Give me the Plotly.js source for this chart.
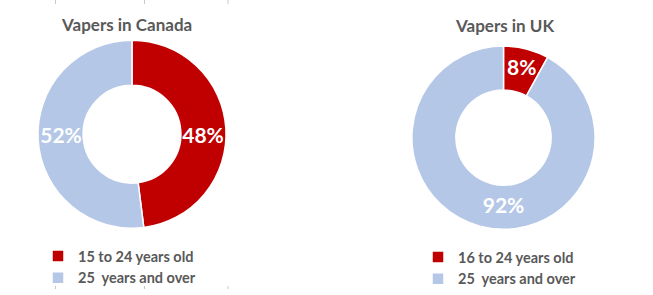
<!DOCTYPE html>
<html>
<head>
<meta charset="utf-8">
<script src="https://cdn.plot.ly/plotly-3.0.1.min.js"></script>
<style>
html,body{margin:0;padding:0;background:#fff;}
#chart{width:653px;height:295px;}
</style>
</head>
<body>
<div id="chart"></div>
<script>
// Data
const canadaLabels = ["15 to 24 years old", "25\u00A0 years and over"];
const canadaValues = [48, 52];
const ukLabels = ["16 to 24 years old", "25 \u00A0years and over"];
const ukValues = [8, 92];
const canadaTitle = "Vapers in Canada";
const ukTitle = "Vapers in UK";

const colors = ["#C00000", "#B4C7E7"];
const W = 653, H = 295;
const fontFam = "Lato, 'Open Sans', sans-serif";
const grey = "#595959";

const common = {
  type: "pie",
  hole: 0.52,
  sort: false,
  direction: "clockwise",
  rotation: 0,
  textinfo: "percent",
  texttemplate: "%{percent:.0%}",
  textposition: "inside",
  insidetextorientation: "horizontal",
  insidetextfont: {family: fontFam, size: 21, color: "#ffffff", weight: "bold"},
  marker: {colors: colors, line: {color: "#ffffff", width: 1.5}},
  hoverinfo: "none"
};

const traces = [
  Object.assign({}, common, {
    labels: canadaLabels, values: canadaValues,
    domain: {x: [36/W, 228/W], y: [1 - 233/H, 1 - 41/H]},
    legend: "legend"
  }),
  Object.assign({}, common, {
    labels: ukLabels, values: ukValues,
    domain: {x: [410/W, 597/W], y: [1 - 234/H, 1 - 47/H]},
    legend: "legend2"
  })
];

const legendCommon = {
  orientation: "v",
  xanchor: "left", yanchor: "top",
  font: {family: fontFam, size: 14.5, color: grey, weight: "bold"},
  bgcolor: "rgba(0,0,0,0)",
  itemclick: false, itemdoubleclick: false,
  tracegroupgap: 0
};

const tickShapes = [];
[55.5, 144.5, 228].forEach(function(x){
  tickShapes.push({type:"line", xref:"paper", yref:"paper", x0:x/W, x1:x/W, y0:1, y1:1-4/H, line:{color:"#C8C8C8", width:1}});
  tickShapes.push({type:"line", xref:"paper", yref:"paper", x0:x/W, x1:x/W, y0:3/H, y1:0, line:{color:"#C8C8C8", width:1}});
});

const layout = {
  width: W, height: H,
  margin: {l:0, r:0, t:0, b:0},
  paper_bgcolor: "#ffffff",
  showlegend: true,
  uniformtext: {mode: "show", minsize: 21},
  legend: Object.assign({}, legendCommon, {x: 38/W, y: 1 - 245/H}),
  legend2: Object.assign({}, legendCommon, {x: 418/W, y: 1 - 246/H}),
  annotations: [
    {text: canadaTitle, xref:"paper", yref:"paper", x: 126/W, y: 1 - 25/H, xanchor:"center", yanchor:"middle", showarrow:false,
     font:{family: fontFam, size: 17, color: grey, weight: "bold"}},
    {text: ukTitle, xref:"paper", yref:"paper", x: 504/W, y: 1 - 26/H, xanchor:"center", yanchor:"middle", showarrow:false,
     font:{family: fontFam, size: 17, color: grey, weight: "bold"}}
  ],
  shapes: tickShapes
};

Plotly.newPlot("chart", traces, layout, {displayModeBar: false, staticPlot: true});
</script>
</body>
</html>
